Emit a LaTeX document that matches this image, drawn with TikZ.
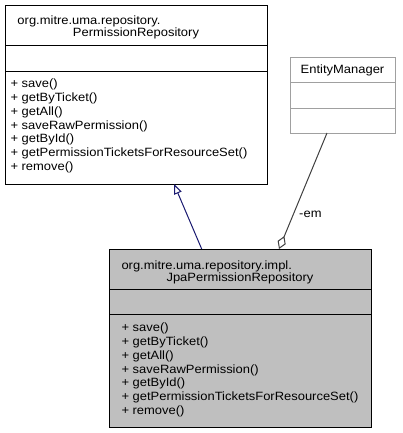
\documentclass[tikz,border=0pt]{standalone}
\usepackage{fontspec}
\setmainfont{Liberation Sans}[FakeStretch=1.08]
\usetikzlibrary{arrows.meta}

\definecolor{edgeblue}{HTML}{191970}
\definecolor{edgegray}{HTML}{404040}
\definecolor{boxgray}{HTML}{BFBFBF}
\definecolor{extgray}{HTML}{A0A0A0}

\begin{document}
\begin{tikzpicture}[x=0.75pt,y=-0.75pt,line width=0.75pt,
classbox/.style={draw,rectangle,anchor=north west,inner sep=0pt,outer sep=0pt,minimum width=196.5pt},
title/.style={inner sep=0pt,font=\fontsize{9}{10.35}\selectfont},
members/.style={inner sep=0pt,anchor=north west,align=left,font=\fontsize{9}{10.35}\selectfont}]

\useasboundingbox (0,0) rectangle (403,433);

% base class
\node[classbox,minimum height=134.25pt] (repo) at (5,5) {};
\draw (repo.west |- 0,45) -- (repo.east |- 0,45);
\draw (repo.west |- 0,71) -- (repo.east |- 0,71);
\node[title,anchor=base west] (repotitle) at (17,24.5) {org.mitre.uma.repository.};
\node[title,anchor=base] (reponame) at (136,36.5) {PermissionRepository};
\node[members] (repoops) at (10,78.5) {+ save()\\+ getByTicket()\\+ getAll()\\+ saveRawPermission()\\+ getById()\\+ getPermissionTicketsForResourceSet()\\+ remove()};

% implementation
\node[classbox,fill=boxgray,minimum height=133.5pt] (jpa) at (109,249) {};
\draw (jpa.west |- 0,289) -- (jpa.east |- 0,289);
\draw (jpa.west |- 0,314) -- (jpa.east |- 0,314);
\node[title,anchor=base west] (jpatitle) at (121,269.5) {org.mitre.uma.repository.impl.};
\node[title,anchor=base] (jpaname) at (240,281.5) {JpaPermissionRepository};
\node[members] (jpaops) at (121,322.5) {+ save()\\+ getByTicket()\\+ getAll()\\+ saveRawPermission()\\+ getById()\\+ getPermissionTicketsForResourceSet()\\+ remove()};

% external class
\node[classbox,draw=extgray,minimum width=78.75pt,minimum height=57pt] (em) at (290,57) {};
\draw[extgray] (em.west |- 0,82) -- (em.east |- 0,82);
\draw[extgray] (em.west |- 0,108) -- (em.east |- 0,108);
\node[title,anchor=base] (emname) at (342.5,73.5) {EntityManager};

% relations
\draw[edgeblue,-{Triangle[open,fill=white,length=7.5pt,width=6pt]}] (201.7,0 |- jpa.north) -- (174,0 |- repo.south);
\draw[edgegray,{Diamond[open,fill=white,length=10.5pt,width=6.5pt]}-] (279,0 |- jpa.north) -- node[right=4pt,pos=0.3,title,text=black] {-em} (327,0 |- em.south);
\end{tikzpicture}
\end{document}
